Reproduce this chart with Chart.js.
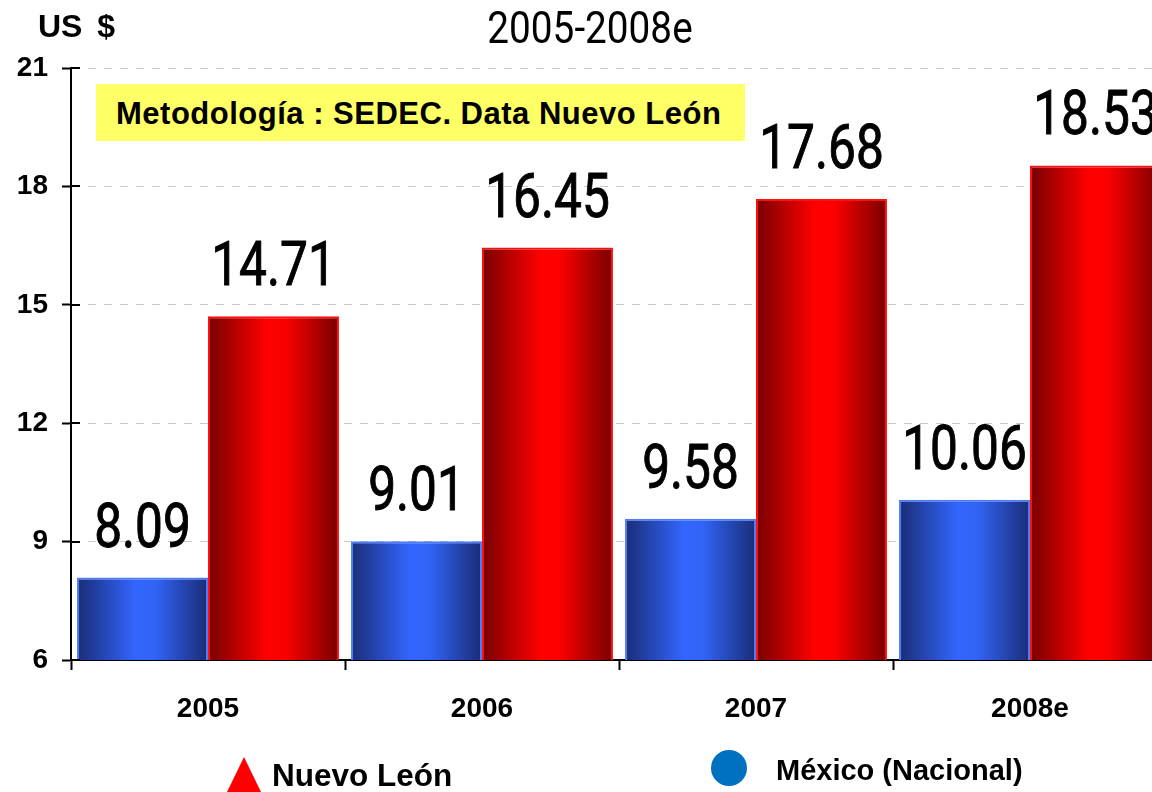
<!DOCTYPE html>
<html lang="es">
<head>
  <meta charset="UTF-8" />
  <title>US $ 2005-2008e</title>
  <script src="https://cdn.jsdelivr.net/npm/chart.js"></script>
  <style>
    html, body {
      margin: 0;
      padding: 0;
      width: 1152px;
      height: 792px;
      overflow: hidden;
      background: #fff;
      font-family: "Liberation Sans", Arial, sans-serif;
    }
    .chart-wrap {
      position: absolute;
      left: 0;
      top: 0;
      width: 1168px;
      height: 792px;
    }
    .txt {
      position: absolute;
      line-height: 1;
      white-space: nowrap;
      transform: translateY(-50%);
      font-weight: bold;
      color: #000;
    }
    #unit { left: 38px; top: 26px; font-size: 32px; word-spacing: 6px; }
    #title {
      left: 590px; top: 28px;
      font-family: Roboto, sans-serif;
      font-weight: normal;
      font-size: 44px;
      transform: translate(-50%, -50%) scaleX(0.88);
    }
    #note {
      position: absolute;
      left: 96px; top: 84px;
      width: 649px; height: 57px;
      background: #ffff66;
    }
    #note span {
      position: absolute;
      left: 20px; top: 29px;
      font-size: 31px;
      letter-spacing: 0.5px;
      font-weight: bold;
      line-height: 1;
      white-space: nowrap;
      transform: translateY(-50%);
    }
    #tri {
      position: absolute;
      left: 227px; top: 757px;
      width: 0; height: 0;
      border-left: 17.5px solid transparent;
      border-right: 17.5px solid transparent;
      border-bottom: 35px solid #ff0000;
    }
    #dot {
      position: absolute;
      left: 711px; top: 750px;
      width: 36px; height: 36px;
      border-radius: 50%;
      background: #0070c0;
    }
    #lgNL { left: 272px; top: 776px; font-size: 31.5px; }
    #lgMX { left: 776px; top: 770px; font-size: 29px; }
  </style>
</head>
<body>
  <div class="chart-wrap">
    <canvas id="chart" width="1168" height="792"></canvas>
  </div>

  <div class="txt" id="unit">US $</div>
  <div class="txt" id="title">2005-2008e</div>
  <div id="note"><span>Metodología : SEDEC. Data Nuevo León</span></div>

  <div id="tri"></div>
  <div class="txt" id="lgNL">Nuevo León</div>
  <div id="dot"></div>
  <div class="txt" id="lgMX">México (Nacional)</div>

  <script>
    const years = ['2005', '2006', '2007', '2008e'];
    const mexico = [8.09, 9.01, 9.58, 10.06];
    const nuevoLeon = [14.71, 16.45, 17.68, 18.53];
    const yTicks = [6, 9, 12, 15, 18, 21];

    const CAT_PCT = 0.956;

    // horizontal shading across each bar, like the original 3D-ish fill
    function barFill(stops, fallback) {
      return function (c) {
        const chart = c.chart;
        const xs = chart.scales.x;
        if (!xs || !chart.chartArea) return fallback;
        const n = chart.data.labels.length;
        const catW = xs.width / n;
        const groupW = catW * CAT_PCT;
        const barW = groupW / 2;
        const center = xs.getPixelForValue(c.dataIndex);
        const left = center - groupW / 2 + c.datasetIndex * barW;
        const g = chart.ctx.createLinearGradient(left, 0, left + barW, 0);
        stops.forEach(s => g.addColorStop(s[0], s[1]));
        return g;
      };
    }

    const valueLabels = {
      id: 'valueLabels',
      afterDatasetsDraw(chart) {
        const ctx = chart.ctx;
        chart.data.datasets.forEach((ds, i) => {
          chart.getDatasetMeta(i).data.forEach((bar, j) => {
            const txt = ds.data[j].toFixed(2);
            ctx.save();
            ctx.translate(bar.x, bar.y - 31);
            ctx.scale(0.8, 1);
            ctx.font = '62px Roboto';
            ctx.fillStyle = '#000';
            ctx.strokeStyle = '#000';
            ctx.lineWidth = 1;
            ctx.textAlign = 'center';
            ctx.textBaseline = 'alphabetic';
            ctx.fillText(txt, 0, 0);
            ctx.strokeText(txt, 0, 0);
            ctx.restore();
          });
        });
      }
    };

    // short tick marks that cross the y axis into the plot, as in the original
    const yTickCross = {
      id: 'yTickCross',
      afterDraw(chart) {
        const ys = chart.scales.y;
        const ctx = chart.ctx;
        const x0 = chart.chartArea.left;
        ctx.save();
        ctx.strokeStyle = '#000';
        ctx.lineWidth = 2;
        ys.ticks.forEach(t => {
          const y = Math.round(ys.getPixelForValue(t.value));
          ctx.beginPath();
          ctx.moveTo(x0, y);
          ctx.lineTo(x0 + 9, y);
          ctx.stroke();
        });
        ctx.restore();
      }
    };

    new Chart(document.getElementById('chart'), {
      type: 'bar',
      data: {
        labels: years,
        datasets: [
          {
            label: 'México (Nacional)',
            data: mexico,
            backgroundColor: barFill([[0, '#1a2d75'], [0.45, '#3366ff'], [0.6, '#3163f5'], [1, '#1a2d75']], '#3366ff'),
            borderColor: '#4d7dff',
            borderWidth: 2,
            borderSkipped: 'bottom'
          },
          {
            label: 'Nuevo León',
            data: nuevoLeon,
            backgroundColor: barFill([[0, '#780000'], [0.45, '#ff0000'], [0.6, '#fa0000'], [1, '#780000']], '#ff0000'),
            borderColor: '#ff1010',
            borderWidth: 2,
            borderSkipped: 'bottom'
          }
        ]
      },
      options: {
        responsive: false,
        animation: false,
        layout: { padding: { top: 68, right: 1, left: 0, bottom: 0 } },
        datasets: {
          bar: { categoryPercentage: CAT_PCT, barPercentage: 1 }
        },
        plugins: {
          legend: { display: false },
          tooltip: { enabled: false }
        },
        scales: {
          x: {
            afterFit: s => { s.height = 132; },
            grid: {
              offset: true,
              drawOnChartArea: false,
              tickLength: 10,
              tickColor: '#000',
              tickWidth: 2
            },
            border: { color: '#000', width: 2 },
            ticks: {
              color: '#000',
              padding: 22,
              font: { family: '"Liberation Sans", Arial', size: 28, weight: 'bold' }
            }
          },
          y: {
            min: 6,
            max: 21,
            afterFit: s => { s.width = 71; },
            afterBuildTicks: s => { s.ticks = yTicks.map(v => ({ value: v })); },
            grid: {
              color: '#c8c8c8',
              lineWidth: 1,
              tickLength: 9,
              tickColor: '#000',
              tickWidth: 2
            },
            border: { color: '#000', width: 2, dash: [8, 8] },
            ticks: {
              color: '#000',
              padding: 14,
              font: { family: '"Liberation Sans", Arial', size: 28, weight: 'bold' }
            }
          }
        }
      },
      plugins: [valueLabels, yTickCross]
    });
  </script>
</body>
</html>
